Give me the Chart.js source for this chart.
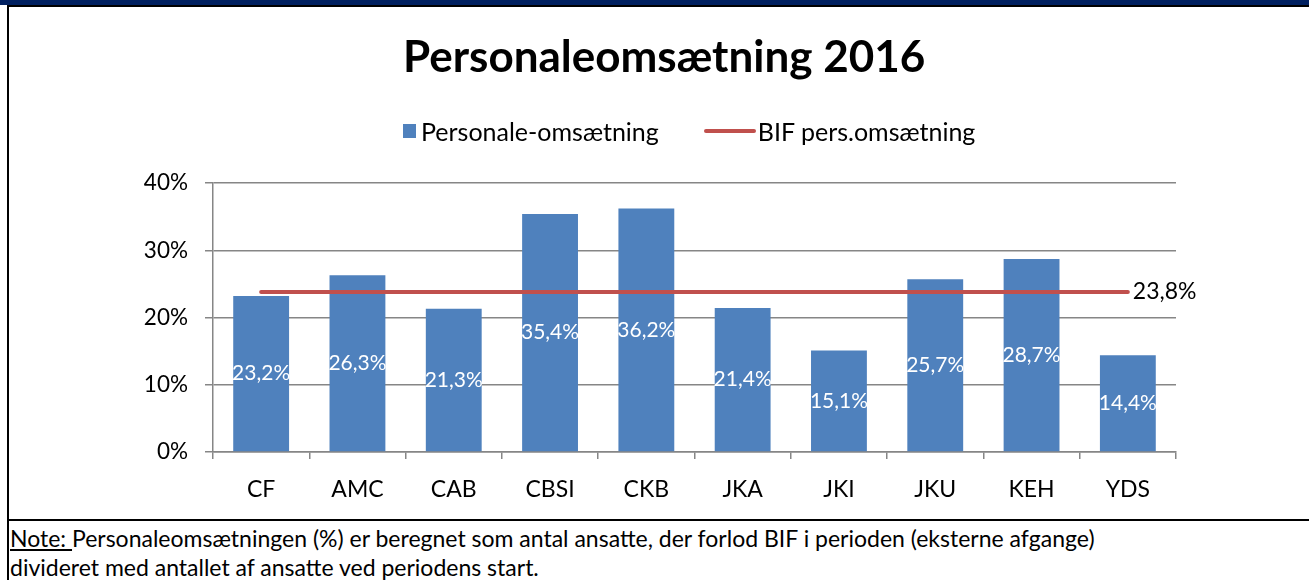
<!DOCTYPE html>
<html>
<head>
<meta charset="utf-8">
<script src="https://cdn.jsdelivr.net/npm/chart.js@4"></script>
<style>
  html, body { margin: 0; padding: 0; background: #fff; }
  body { width: 1309px; height: 580px; position: relative; overflow: hidden; font-family: Lato, 'Open Sans', sans-serif; }
  #band { position: absolute; left: 0; top: 0; width: 1309px; height: 5px; background: #002060; }
  #bandLine { position: absolute; left: 8px; top: 5px; width: 1301px; height: 2px; background: #000; }
  #leftBorder { position: absolute; left: 7px; top: 5px; width: 2px; height: 575px; background: #000; }
  #sep { position: absolute; left: 7px; top: 519px; width: 1302px; height: 2px; background: #000; }
  #wrap { position: absolute; left: 0; top: 0; width: 1309px; height: 519px; }
  #title { position: absolute; left: 403px; top: 30px; font-weight: bold; font-size: 44px; line-height: 50px; color: #000; white-space: nowrap; }
  #legend { position: absolute; top: 112px; left: 403px; height: 30px; font-size: 25px; line-height: 30px; color: #000; white-space: nowrap; }
  #legend span { display: inline-block; vertical-align: middle; }
  .sw-bar { width: 13px; height: 14px; background: #4F81BD; margin-right: 5px; }
  .sw-line { width: 52px; height: 4px; background: #C0504D; border-radius: 2px; margin-left: 45px; margin-right: 2px; }
  #note { position: absolute; left: 10px; top: 524px; font-size: 23px; line-height: 29px; color: #000; white-space: nowrap; }
  #note u { text-decoration: underline; }
</style>
</head>
<body>
<div id="band"></div>
<div id="bandLine"></div>
<div id="leftBorder"></div>
<div id="wrap"><canvas id="chart"></canvas></div>
<div id="title">Personaleomsætning 2016</div>
<div id="legend"><span class="sw-bar"></span><span>Personale-omsætning</span><span class="sw-line"></span><span>BIF pers.omsætning</span></div>
<div id="sep"></div>
<div id="note"><u>Note: </u>Personaleomsætningen (%) er beregnet som antal ansatte, der forlod BIF i perioden (eksterne afgange)<br>divideret med antallet af ansatte ved periodens start.</div>

<script>
const categories = ['CF', 'AMC', 'CAB', 'CBSI', 'CKB', 'JKA', 'JKI', 'JKU', 'KEH', 'YDS'];
const turnover = [23.2, 26.3, 21.3, 35.4, 36.2, 21.4, 15.1, 25.7, 28.7, 14.4];
const bifTurnover = [23.8, 23.8, 23.8, 23.8, 23.8, 23.8, 23.8, 23.8, 23.8, 23.8];
const yTicks = [0, 10, 20, 30, 40];

const fmt = v => v.toFixed(1).replace('.', ',') + '%';
const FONT = "Lato, 'Open Sans', sans-serif";

// etiketter i søjlerne og ved linjens slutpunkt
const labelPlugin = {
    id: 'labels',
    afterDatasetsDraw(chart) {
        const ctx = chart.ctx;
        ctx.save();
        ctx.font = '21px ' + FONT;
        ctx.textBaseline = 'middle';
        ctx.textAlign = 'center';
        ctx.fillStyle = '#fff';
        chart.getDatasetMeta(0).data.forEach((bar, i) => {
            ctx.fillText(fmt(turnover[i]), bar.x, (bar.y + bar.base) / 2);
        });
        const pts = chart.getDatasetMeta(1).data;
        const last = pts[pts.length - 1];
        ctx.font = '23px ' + FONT;
        ctx.textAlign = 'left';
        ctx.fillStyle = '#000';
        ctx.fillText(fmt(bifTurnover[bifTurnover.length - 1]), last.x + 5, last.y);
        ctx.restore();
    }
};

new Chart(document.getElementById('chart'), {
    data: {
        labels: categories,
        datasets: [
            {
                type: 'bar',
                label: 'Personale-omsætning',
                data: turnover,
                backgroundColor: '#4F81BD',
                categoryPercentage: 1,
                barPercentage: 0.58,
                order: 2
            },
            {
                type: 'line',
                label: 'BIF pers.omsætning',
                data: bifTurnover,
                borderColor: '#C0504D',
                borderWidth: 4,
                borderCapStyle: 'round',
                pointRadius: 0,
                order: 1
            }
        ]
    },
    options: {
        responsive: true,
        maintainAspectRatio: false,
        animation: false,
        layout: { padding: { top: 183, right: 133, left: 0, bottom: 0 } },
        plugins: {
            legend: { display: false },
            title: { display: false },
            tooltip: { enabled: false }
        },
        scales: {
            x: {
                grid: { offset: true, drawOnChartArea: false, drawTicks: true, tickLength: 7, color: '#868686', lineWidth: 1.5 },
                border: { color: '#868686', width: 1.5 },
                ticks: { color: '#000', font: { family: FONT, size: 23 }, padding: 17 },
                afterFit(scale) { scale.height = 67; }
            },
            y: {
                min: 0,
                max: 40,
                afterBuildTicks(scale) { scale.ticks = yTicks.map(v => ({ value: v })); },
                grid: { color: '#868686', lineWidth: 1.5, tickLength: 8 },
                border: { color: '#868686', width: 1.5 },
                ticks: {
                    color: '#000',
                    font: { family: FONT, size: 22.5 },
                    padding: 17,
                    callback: v => v + '%'
                },
                afterFit(scale) { scale.width = 213; }
            }
        }
    },
    plugins: [labelPlugin]
});
</script>
</body>
</html>
